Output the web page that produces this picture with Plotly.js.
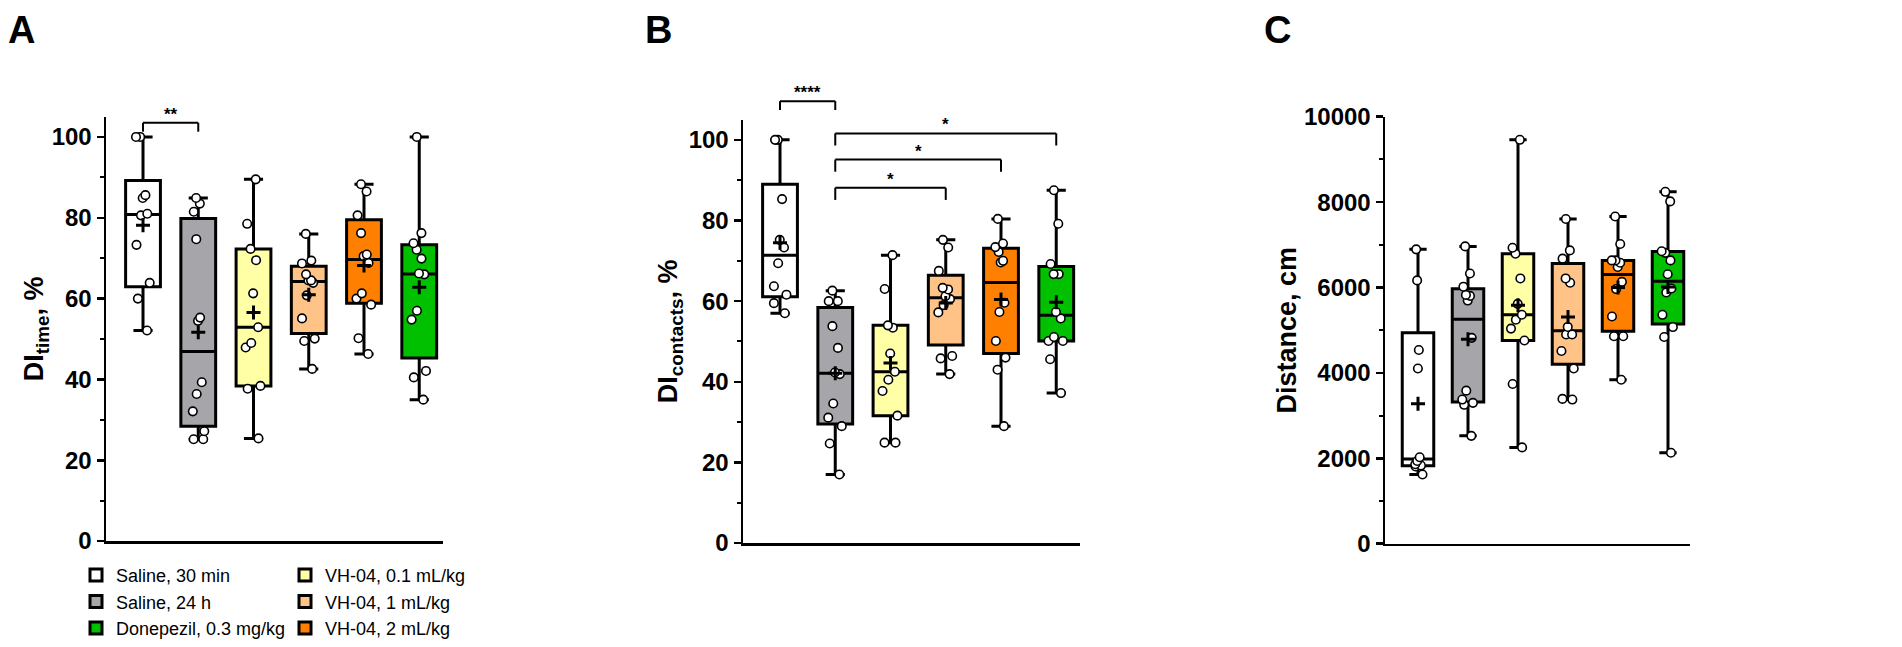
<!DOCTYPE html>
<html>
<head>
<meta charset="utf-8">
<script src="https://cdn.plot.ly/plotly-3.0.1.min.js"></script>
<style>html,body{margin:0;padding:0;background:#fff;}#chart{width:1902px;height:647px;}</style>
</head>
<body>
<div id="chart"></div>
<script>
// ---------- DATA ----------
const groups = ['Saline, 30 min', 'Saline, 24 h', 'VH-04, 0.1 mL/kg', 'VH-04, 1 mL/kg', 'VH-04, 2 mL/kg', 'Donepezil, 0.3 mg/kg'];

// Panel A: DI time, %
const diTimeSaline30 = [100, 100, 84.9, 85.6, 80.6, 81.0, 73.3, 63.9, 60.0, 52.1];
const diTimeSaline24 = [84.9, 83.5, 81.5, 74.7, 54.5, 55.3, 39.3, 36.4, 32.1, 27.2, 25.2, 25.2];
const diTimeVH01 = [89.5, 78.5, 72.3, 69.5, 61.3, 52.9, 49.0, 47.9, 38.4, 37.7, 25.4];
const diTimeVH1 = [76.0, 68.7, 69.4, 66.0, 64.5, 63.9, 64.5, 60.8, 55.1, 49.5, 50.1, 42.6];
const diTimeVH2 = [88.3, 86.5, 80.6, 76.2, 70.9, 70.5, 68.8, 61.3, 60.0, 58.5, 50.2, 46.3];
const diTimeDonep = [100, 76.2, 73.7, 72.1, 69.9, 66.2, 66.0, 57.0, 54.8, 42.1, 40.5, 35.0];

// Panel B: DI contacts, %
const diContSaline30 = [100, 100, 85.3, 75.2, 73.3, 69.4, 63.7, 61.6, 59.5, 57.0];
const diContSaline24 = [62.6, 60.0, 60.0, 53.8, 48.4, 42.3, 41.9, 34.6, 31.1, 29.0, 24.7, 17.0];
const diContVH01 = [71.4, 63.0, 54.0, 53.4, 47.0, 42.5, 40.5, 37.7, 31.6, 24.9, 24.9];
const diContVH1 = [75.2, 73.3, 67.5, 63.3, 62.9, 61.2, 60.5, 59.0, 57.2, 46.4, 45.8, 41.9];
const diContVH2 = [80.4, 74.3, 73.4, 72.2, 70.0, 69.6, 59.6, 57.3, 50.1, 46.0, 43.0, 29.0];
const diContDonep = [87.5, 79.2, 69.2, 66.7, 66.7, 57.3, 55.7, 51.1, 50.1, 50.1, 45.6, 37.2];

// Panel C: Distance, cm
const distSaline30 = [6893, 6166, 4535, 4102, 2023, 1937, 1860, 1829, 1806, 1620];
const distSaline24 = [6962, 6328, 6019, 5826, 5803, 5694, 4821, 3584, 3375, 3298, 3252, 2525];
const distVH01 = [9459, 6931, 6792, 6212, 5617, 5362, 5246, 5037, 4759, 3739, 2255];
const distVH1 = [7604, 6869, 6676, 6212, 6112, 5076, 4898, 4898, 4512, 4102, 3391, 3375];
const distVH2 = [7662, 7020, 6635, 6635, 6580, 6480, 6132, 5963, 5321, 4858, 4858, 3838];
const distDonep = [8241, 8016, 6850, 6811, 6635, 6310, 5977, 5884, 5360, 5073, 4841, 2130];

// significance comparisons [from group index, to group index, label]
const sigA = [[0, 1, '**']];
const sigB = [[0, 1, '****'], [1, 3, '*'], [1, 4, '*'], [1, 5, '*']];

const yTickA = [0, 20, 40, 60, 80, 100];
const yTickC = [0, 2000, 4000, 6000, 8000, 10000];

// ---------- STYLE ----------
const colors = ['#FFFFFF', '#A6A6AA', '#FFFFA6', '#FFC287', '#FF8000', '#00C000'];
const legendOf = ['legend', 'legend', 'legend2', 'legend2', 'legend2', 'legend'];
const FONT = 'Arial, "Liberation Sans", sans-serif';
const W = 1902, H = 647;
const px = p => p / W;
const py = p => 1 - p / H;

// GraphPad-style percentiles ((n+1)p method)
function pct(s, p) {
  const n = s.length, pos = (n + 1) * p;
  if (pos <= 1) return s[0];
  if (pos >= n) return s[n - 1];
  const lo = Math.floor(pos), f = pos - lo;
  return s[lo - 1] + f * (s[lo] - s[lo - 1]);
}
function stats(v) {
  const s = v.slice().sort((a, b) => a - b);
  const mean = s.reduce((a, b) => a + b, 0) / s.length;
  return {min: s[0], max: s[s.length - 1], q1: pct(s, 0.25), med: pct(s, 0.5), q3: pct(s, 0.75), mean: mean};
}

const panels = [
  {xa: 'x', ya: 'y', data: [diTimeSaline30, diTimeSaline24, diTimeVH01, diTimeVH1, diTimeVH2, diTimeDonep], legend: true},
  {xa: 'x2', ya: 'y2', data: [diContSaline30, diContSaline24, diContVH01, diContVH1, diContVH2, diContDonep], legend: false},
  {xa: 'x3', ya: 'y3', data: [distSaline30, distSaline24, distVH01, distVH1, distVH2, distDonep], legend: false}
];

const traces = [];
panels.forEach(p => {
  const means = [];
  p.data.forEach((vals, i) => {
    const s = stats(vals);
    means.push(s.mean);
    traces.push({
      type: 'box', name: groups[i], x: [groups[i]], xaxis: p.xa, yaxis: p.ya,
      q1: [s.q1], median: [s.med], q3: [s.q3], lowerfence: [s.min], upperfence: [s.max],
      y: [vals],
      boxpoints: 'all', jitter: 0.55, pointpos: 0,
      fillcolor: colors[i], line: {color: '#000', width: 3},
      marker: {color: '#fff', size: 8.5, line: {color: '#000', width: 1.6}},
      whiskerwidth: 0.55, width: 0.63,
      showlegend: p.legend, legend: legendOf[i], hoverinfo: 'y'
    });
  });
  traces.push({
    type: 'scatter', mode: 'markers', x: groups, y: means, xaxis: p.xa, yaxis: p.ya,
    marker: {symbol: 'cross-thin', size: 10, color: '#000', line: {color: '#000', width: 3}},
    showlegend: false, hoverinfo: 'skip'
  });
});

// ---------- LAYOUT ----------
function yAxis(domPx, range, ticks, minorD, title, standoff, anchor) {
  return {
    domain: [py(domPx[0]), py(domPx[1])], range: range, tickvals: ticks, ticktext: ticks.map(String),
    showline: true, linewidth: 2.5, linecolor: '#000', ticks: 'outside', ticklen: 7, tickwidth: 2.5, tickcolor: '#000',
    minor: {dtick: minorD, ticks: 'outside', ticklen: 4, tickwidth: 2, tickcolor: '#000'},
    showgrid: false, zeroline: false, anchor: anchor,
    tickfont: {family: FONT, size: 24, weight: 'bold', color: '#000'},
    title: {text: title, font: {family: FONT, size: 27, weight: 'bold', color: '#000'}, standoff: standoff},
    fixedrange: true
  };
}
function xAxis(domPx, range, anchor) {
  return {
    domain: [px(domPx[0]), px(domPx[1])], range: range, type: 'category', categoryorder: 'array', categoryarray: groups,
    showline: true, linewidth: 2.5, linecolor: '#000', showticklabels: false, ticks: '', showgrid: false, zeroline: false,
    anchor: anchor, fixedrange: true
  };
}

const shapes = [], annotations = [];
function bracket(xref, yref, range, a, b, yv, drop, label) {
  const d = v => v / range[1];
  const line = {color: '#000', width: 2};
  shapes.push({type: 'line', xref: xref, yref: yref + ' domain', x0: a, x1: b, y0: d(yv), y1: d(yv), line: line});
  shapes.push({type: 'line', xref: xref, yref: yref + ' domain', x0: a, x1: a, y0: d(yv), y1: d(yv - drop), line: line});
  shapes.push({type: 'line', xref: xref, yref: yref + ' domain', x0: b, x1: b, y0: d(yv), y1: d(yv - drop), line: line});
  annotations.push({xref: xref, yref: yref + ' domain', x: (a + b) / 2, y: d(yv), yanchor: 'bottom', xanchor: 'center',
    text: '<b>' + label + '</b>', showarrow: false, font: {family: FONT, size: 17, color: '#000'}, yshift: -3});
}
const rA = [0, 105], rB = [0, 105], rC = [0, 10000];
sigA.forEach(s => bracket('x', 'y', rA, s[0], s[1], 103.5, 2.2, s[2]));
const levelsB = [109.6, 88.1, 95.1, 101.6];
sigB.forEach((s, k) => bracket('x2', 'y2', rB, s[0], s[1], levelsB[k], k === 0 ? 2.2 : 3.0, s[2]));

[['A', 6], ['B', 643], ['C', 1262]].forEach(l => annotations.push({
  xref: 'paper', yref: 'paper', x: px(l[1]), y: py(30.5), xanchor: 'left', yanchor: 'middle',
  text: '<b>' + l[0] + '</b>', showarrow: false, font: {family: FONT, size: 38, color: '#000'}
}));

const legendBase = {
  yanchor: 'top', xanchor: 'left', orientation: 'v', bgcolor: 'rgba(0,0,0,0)', borderwidth: 0,
  font: {family: FONT, size: 18, color: '#000'}, tracegroupgap: 0, itemwidth: 30, traceorder: 'normal'
};

const layout = {
  width: W, height: H, margin: {l: 0, r: 0, t: 0, b: 0}, paper_bgcolor: '#fff', plot_bgcolor: 'rgba(0,0,0,0)',
  font: {family: FONT, color: '#000'}, boxmode: 'overlay', hovermode: false,
  xaxis: xAxis([106, 443], [-0.67, 5.43], 'y'),
  yaxis: yAxis([547, 118], rA, yTickA, 10, '<b>DI<sub>time</sub>, %</b>', 0, 'x'),
  xaxis2: xAxis([743, 1080], [-0.67, 5.43], 'y2'),
  yaxis2: yAxis([549, 121], rB, yTickA, 10, '<b>DI<sub>contacts</sub>, %</b>', 3, 'x2'),
  xaxis3: xAxis([1385, 1690], [-0.66, 5.44], 'y3'),
  yaxis3: yAxis([549.6, 118], rC, yTickC, 1000, '<b>Distance, cm</b>', 0, 'x3'),
  shapes: shapes, annotations: annotations,
  legend: Object.assign({x: px(76), y: py(563)}, legendBase),
  legend2: Object.assign({x: px(285), y: py(563)}, legendBase)
};

Plotly.newPlot('chart', traces, layout, {displayModeBar: false, staticPlot: true});
</script>
</body>
</html>
